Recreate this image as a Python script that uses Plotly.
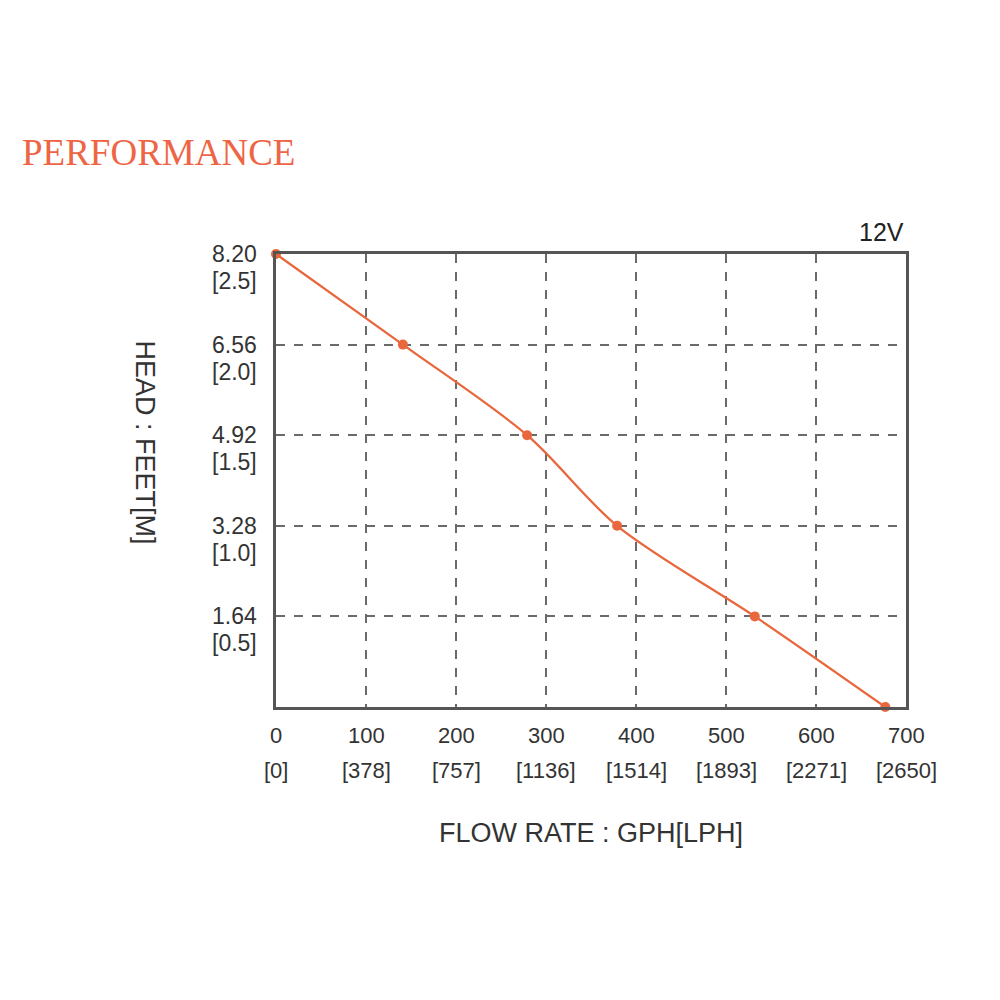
import plotly.graph_objects as go

# Data
flow_gph = [0, 141, 279, 379, 532, 677]
head_ft = [8.20, 6.56, 4.92, 3.28, 1.64, 0.0]

x_ticks = [0, 100, 200, 300, 400, 500, 600, 700]
x_tick_lph = ["[0]", "[378]", "[757]", "[1136]", "[1514]", "[1893]", "[2271]", "[2650]"]
y_ticks = [1.64, 3.28, 4.92, 6.56, 8.20]
y_tick_ft = ["1.64", "3.28", "4.92", "6.56", "8.20"]
y_tick_m = ["[0.5]", "[1.0]", "[1.5]", "[2.0]", "[2.5]"]

line_color = "#e8673c"
text_color = "#333333"

fig = go.Figure()
fig.add_trace(go.Scatter(
    x=flow_gph, y=head_ft, mode="lines+markers",
    line=dict(color=line_color, width=2.3, shape="spline", smoothing=0.9),
    marker=dict(color=line_color, size=10),
    cliponaxis=False, showlegend=False, hoverinfo="x+y",
))

annotations = []
for xv, lph in zip(x_ticks, x_tick_lph):
    annotations.append(dict(x=xv, y=0, xref="x", yref="paper", text=str(xv),
                            showarrow=False, yanchor="middle", yshift=-28,
                            font=dict(family="Liberation Sans", size=22, color=text_color)))
    annotations.append(dict(x=xv, y=0, xref="x", yref="paper", text=lph,
                            showarrow=False, yanchor="middle", yshift=-63,
                            font=dict(family="Liberation Sans", size=22, color=text_color)))
for yv, ft, m in zip(y_ticks, y_tick_ft, y_tick_m):
    annotations.append(dict(x=0, y=yv, xref="paper", yref="y", text=ft,
                            showarrow=False, xanchor="right", yanchor="middle", xshift=-17,
                            font=dict(family="Liberation Sans", size=23, color=text_color)))
    annotations.append(dict(x=0, y=yv, xref="paper", yref="y", text=m,
                            showarrow=False, xanchor="right", yanchor="middle", xshift=-17, yshift=-27,
                            font=dict(family="Liberation Sans", size=23, color=text_color)))

annotations += [
    dict(x=0.5, y=0, xref="paper", yref="paper", text="FLOW RATE : GPH[LPH]",
         showarrow=False, yanchor="middle", yshift=-126,
         font=dict(family="Liberation Sans", size=27, color=text_color)),
    dict(x=0, y=0.5, xref="paper", yref="paper", text="HEAD : FEET[M]",
         showarrow=False, xanchor="center", yanchor="middle", xshift=-131, yshift=38,
         textangle=90, font=dict(family="Liberation Sans", size=27, color=text_color)),
    dict(x=1, y=1, xref="paper", yref="paper", text="12V",
         showarrow=False, xanchor="right", yanchor="bottom", yshift=6,
         font=dict(family="Liberation Sans", size=25, color="#222222")),
]
# PERFORMANCE title placed by pixel position converted to paper coords
pw, ph = 630, 453
ml, mt = 276, 254
annotations.append(dict(x=(20 - ml) / pw, y=1 + (mt - 152) / ph, xref="paper", yref="paper",
                        text="PERFORMANCE", showarrow=False, xanchor="left", yanchor="middle",
                        font=dict(family="Liberation Serif", size=37, color="#ee6545")))

fig.update_layout(
    width=1000, height=1000,
    margin=dict(l=276, r=94, t=254, b=293),
    paper_bgcolor="white", plot_bgcolor="white",
    annotations=annotations,
    xaxis=dict(range=[0, 700], tickvals=[100, 200, 300, 400, 500, 600], showticklabels=False,
               showgrid=True, gridcolor="#6a6a6a", gridwidth=1.5, griddash="dash",
               showline=True, mirror=True, linecolor="#555555", linewidth=2.5,
               zeroline=False, ticks=""),
    yaxis=dict(range=[0, 8.20], tickvals=[1.64, 3.28, 4.92, 6.56], showticklabels=False,
               showgrid=True, gridcolor="#6a6a6a", gridwidth=1.5, griddash="dash",
               showline=True, mirror=True, linecolor="#555555", linewidth=2.5,
               zeroline=False, ticks=""),
)

fig.write_html("out.html")
